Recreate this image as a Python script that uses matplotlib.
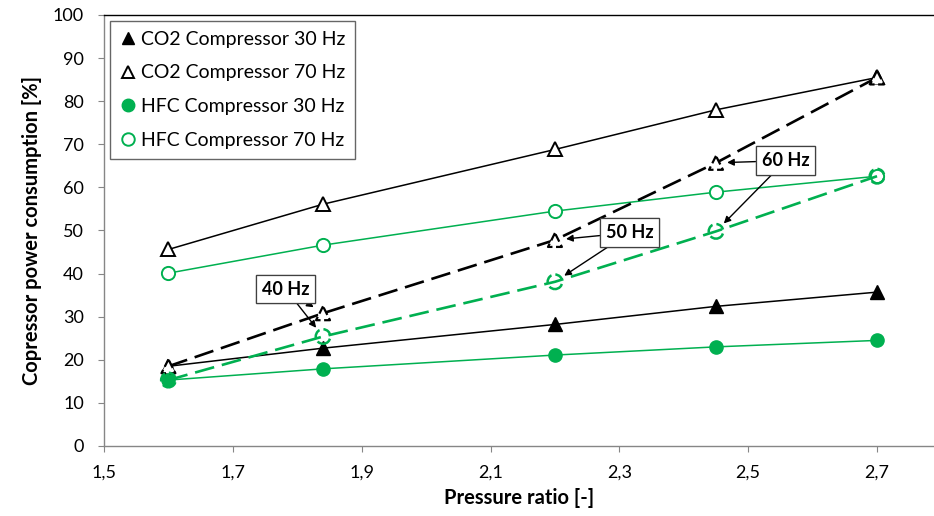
import matplotlib
matplotlib.use("Agg")
import matplotlib.pyplot as plt
from matplotlib.lines import Line2D

plt.rcParams['font.family'] = ['Lato', 'DejaVu Sans']

GREEN = '#00B050'

# pressure ratio at the measuring points
pr = [1.6, 1.84, 2.2, 2.45, 2.7]

co2_30 = [18.5, 22.7, 28.2, 32.4, 35.7]
co2_70 = [45.6, 56.1, 68.8, 78.0, 85.5]
hfc_30 = [15.3, 17.9, 21.1, 23.0, 24.5]
hfc_70 = [40.1, 46.6, 54.5, 58.9, 62.6]

# variable speed: 30, 40, 50, 60, 70 Hz
co2_var = [18.5, 30.8, 47.8, 65.7, 85.5]
hfc_var = [15.3, 25.4, 38.1, 49.8, 62.6]

freq_labels = ['40 Hz', '50 Hz', '60 Hz']
freq_idx = [1, 2, 3]
label_pos = [(1.782, 36.4), (2.316, 49.5), (2.558, 66.2)]

fig = plt.figure(figsize=(9.34, 5.16), dpi=100)
ax = fig.add_axes([104 / 934, 70 / 516, 830 / 934, 431 / 516])

# solid series
ax.plot(pr, co2_30, color='black', lw=1.1, marker='^', ms=9.5,
        mfc='black', mec='black', zorder=3)
ax.plot(pr, co2_70, color='black', lw=1.1, marker='^', ms=9.5,
        mfc='white', mec='black', mew=1.4, zorder=3)
ax.plot(pr, hfc_30, color=GREEN, lw=1.1, marker='o', ms=9.5,
        mfc=GREEN, mec=GREEN, zorder=3)
ax.plot(pr, hfc_70, color=GREEN, lw=1.1, marker='o', ms=9.5,
        mfc='white', mec=GREEN, mew=1.4, zorder=3)

# dashed series (markers with dashed outlines)
ax.plot(pr, co2_var, color='black', lw=1.9, ls=(0, (7.5, 3)), zorder=4)
ax.scatter(pr, co2_var, marker='^', s=100, facecolors='white',
           edgecolors='black', linewidths=1.6, linestyles='--', zorder=5)
ax.plot(pr, hfc_var, color=GREEN, lw=1.9, ls=(0, (7.5, 3)), zorder=4)
ax.scatter(pr, hfc_var, marker='o', s=110, facecolors='none',
           edgecolors=GREEN, linewidths=1.8, linestyles='--', zorder=5)

# frequency callouts
for lab, i, pos in zip(freq_labels, freq_idx, label_pos):
    for yv in (co2_var[i], hfc_var[i]):
        ax.annotate(lab, xy=(pr[i], yv), xytext=pos,
                    ha='center', va='center', fontsize=13, fontweight='bold',
                    bbox=dict(boxstyle='square,pad=0.32', fc='white', ec='#404040', lw=0.9),
                    arrowprops=dict(arrowstyle='-|>', color='black', lw=1.0,
                                    mutation_scale=10, shrinkA=0, shrinkB=8),
                    zorder=6)

ax.set_xlim(1.5, 1.5 + 830 / 644.2)
ax.set_ylim(0, 100)
ax.set_xticks([1.5, 1.7, 1.9, 2.1, 2.3, 2.5, 2.7])
ax.set_xticklabels(['1,5', '1,7', '1,9', '2,1', '2,3', '2,5', '2,7'])
ax.set_yticks(range(0, 101, 10))

ax.tick_params(axis='both', direction='out', length=4.5, width=0.8,
               color='#868686', labelsize=13, labelcolor='black')
ax.tick_params(axis='y', pad=10)
ax.tick_params(axis='x', pad=9)
for s in ('left', 'bottom'):
    ax.spines[s].set_color('#868686')
    ax.spines[s].set_linewidth(1.0)
ax.spines['right'].set_visible(False)
ax.spines['top'].set_color('black')
ax.spines['top'].set_linewidth(1.0)

ax.set_xlabel('Pressure ratio [-]', fontsize=14.5, fontweight='bold', labelpad=5)
ax.set_ylabel('Copressor power consumption [%]', fontsize=14.5, fontweight='bold', labelpad=8)

handles = [
    Line2D([], [], ls='none', marker='^', ms=9, mfc='black', mec='black'),
    Line2D([], [], ls='none', marker='^', ms=9, mfc='white', mec='black', mew=1.4),
    Line2D([], [], ls='none', marker='o', ms=9, mfc=GREEN, mec=GREEN),
    Line2D([], [], ls='none', marker='o', ms=9, mfc='white', mec=GREEN, mew=1.4),
]
labels = ['CO2 Compressor 30 Hz', 'CO2 Compressor 70 Hz',
          'HFC Compressor 30 Hz', 'HFC Compressor 70 Hz']
leg = fig.legend(handles, labels, loc='upper left',
                 bbox_to_anchor=(110 / 934, 1 - 21 / 516),
                 fontsize=14, frameon=True, fancybox=False,
                 handlelength=0.8, handletextpad=0.3, labelspacing=0.86,
                 borderpad=0.5, borderaxespad=0)
leg.get_frame().set_edgecolor('#404040')
leg.get_frame().set_linewidth(1.0)

fig.savefig('out.png', dpi=100)
